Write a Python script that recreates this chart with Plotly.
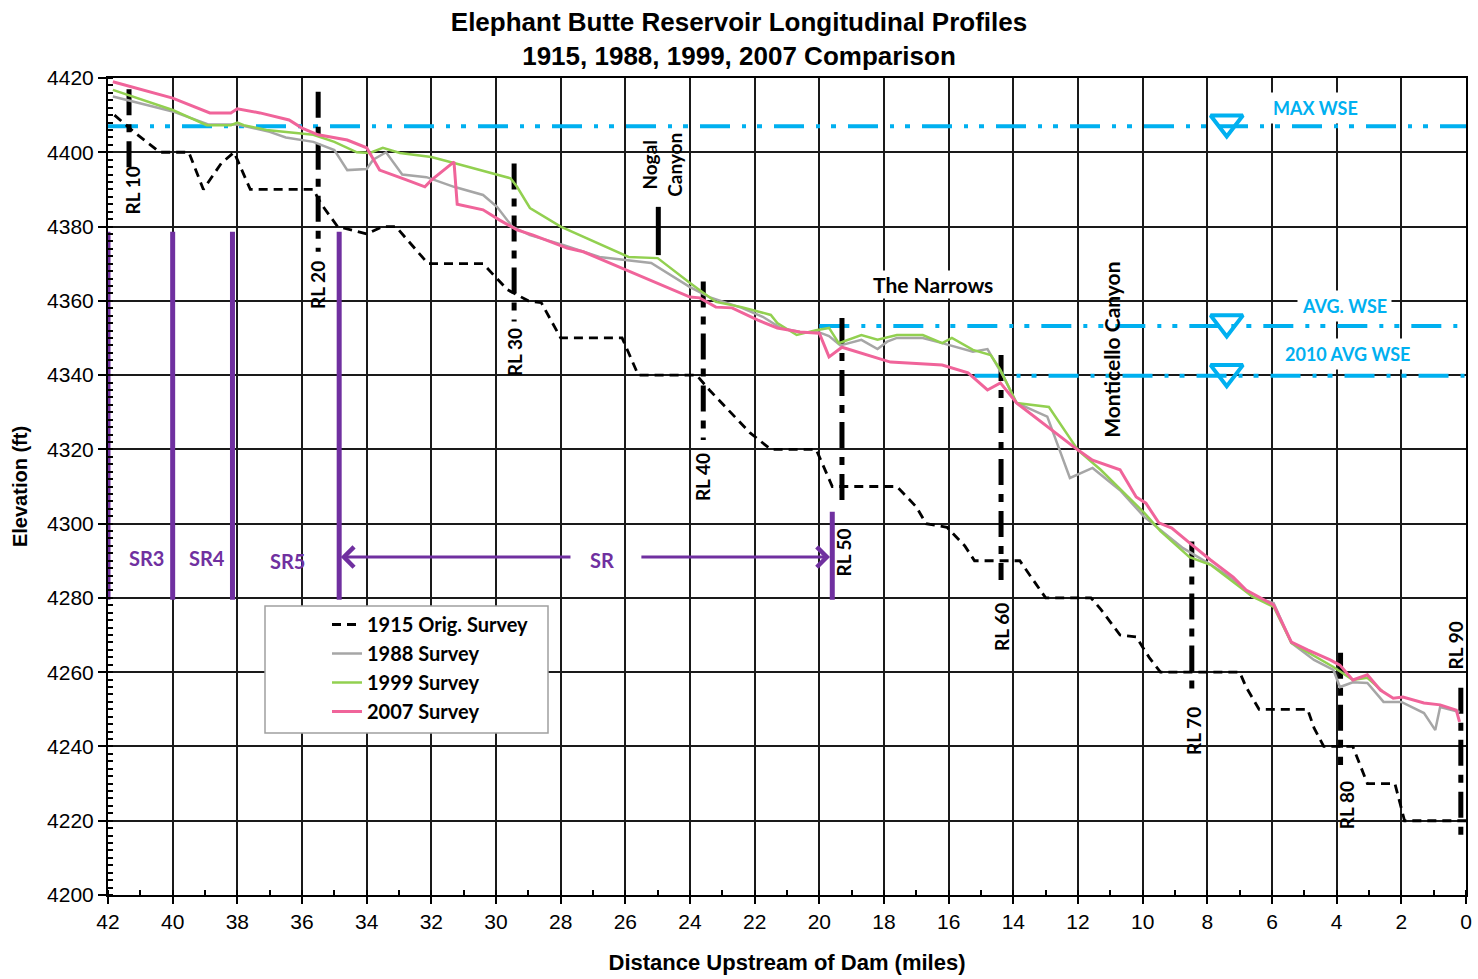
import plotly.graph_objects as go

# ---- survey profiles (distance upstream of dam in miles, elevation in ft) ----
mi_1915 = [41.8, 41.2, 40.4, 39.5, 39.05, 38.5, 38.1, 37.6, 35.65, 35.4, 34.9, 34.0, 33.5, 33.1,
           32.1, 30.4, 29.65, 29.0, 28.6, 28.0, 26.1, 25.6, 23.8, 23.4, 22.15, 21.5, 20.1, 19.6,
           17.6, 17.0, 16.7, 16.05, 15.5, 15.2, 13.8, 13.0, 11.6, 11.3, 10.7, 10.2, 9.8, 9.45,
           7.0, 6.8, 6.4, 4.9, 4.7, 4.4, 3.5, 3.3, 3.05, 2.2, 1.9, 0.0]
el_1915 = [4410, 4405.5, 4400, 4400, 4390, 4397, 4400, 4390, 4390, 4386, 4380, 4378, 4380, 4380,
           4370, 4370, 4363, 4360, 4359.5, 4350, 4350, 4340, 4340, 4336, 4324.5, 4320, 4320, 4310,
           4310, 4304.5, 4300, 4299, 4294, 4290, 4290, 4280, 4280, 4277, 4270, 4269.5, 4264, 4260,
           4260, 4256, 4250, 4250, 4245, 4240, 4240, 4235.5, 4230, 4230, 4220, 4220]

mi_1988 = [41.85, 40.0, 38.9, 38.0, 37.0, 36.5, 35.65, 35.0, 34.6, 34.0, 33.8, 33.4, 32.9, 32.15,
           31.3, 30.4, 29.97, 29.5, 28.95, 27.9, 26.8, 25.2, 24.0, 23.4, 22.4, 21.75, 21.2, 20.6,
           20.0, 19.7, 19.35, 18.7, 18.2, 17.9, 17.6, 16.8, 16.2, 15.25, 14.8, 14.3, 13.9, 12.95,
           12.25, 11.55, 10.7, 9.95, 8.75, 7.9, 7.2, 6.6, 5.95, 5.4, 4.7, 4.1, 3.9, 3.5, 3.05,
           2.55, 2.0, 1.3, 0.95, 0.8, 0.2]
el_1988 = [4415, 4411, 4407.5, 4407.5, 4405.5, 4404, 4402.8, 4400.6, 4395.2, 4395.5, 4398, 4400,
           4394, 4393.3, 4390.7, 4388.5, 4385.3, 4380, 4377.7, 4375, 4371.8, 4370.2, 4363.7, 4361,
           4358.1, 4355.7, 4352.7, 4351.6, 4351.5, 4350.5, 4348, 4349.5, 4347, 4349, 4350, 4350,
           4348.6, 4346.3, 4347, 4339.5, 4332.5, 4328.8, 4312.3, 4315, 4309, 4301.8, 4293.4, 4289,
           4285, 4280.3, 4278.6, 4267.9, 4263.3, 4260.6, 4256, 4257.3, 4257.1, 4252, 4252, 4249,
           4244.4, 4250.6, 4249.3]

mi_1999 = [41.85, 40.0, 38.95, 38.2, 38.0, 37.8, 37.1, 35.65, 35.0, 34.3, 33.9, 33.5, 32.97, 32.0,
           31.3, 29.55, 29.35, 28.95, 28.0, 26.9, 25.9, 25.0, 24.0, 23.2, 22.4, 21.5, 21.3, 20.7,
           20.1, 19.7, 19.4, 18.7, 18.2, 17.6, 16.8, 16.2, 15.9, 15.25, 14.7, 14.4, 13.9, 12.9,
           12.0, 11.3, 9.95, 9.45, 8.55, 7.9, 6.6, 5.95, 5.4, 4.1, 3.5, 3.05, 2.6]
el_1999 = [4416.8, 4411.4, 4407.3, 4407.3, 4408, 4407.3, 4406, 4404.7, 4402.8, 4400, 4399.8,
           4401.2, 4399.8, 4398.7, 4397.1, 4393, 4390.7, 4385, 4380, 4375.6, 4371.8, 4371.5,
           4364.8, 4359.7, 4358.3, 4356.2, 4354, 4350.8, 4352.1, 4352.7, 4348.6, 4350.8, 4349.5,
           4350.8, 4350.8, 4348.6, 4350, 4346.8, 4345.4, 4341.4, 4332.5, 4331.4, 4319.8, 4314.5,
           4302.9, 4298, 4291, 4288.9, 4280.3, 4277.6, 4267.9, 4261.4, 4257.9, 4258.5, 4255]

mi_2007 = [41.85, 40.0, 38.85, 38.2, 38.0, 37.3, 36.4, 36.0, 35.5, 34.6, 34.0, 33.6, 32.75, 32.2,
           32.0, 31.3, 31.2, 30.8, 30.4, 29.9, 29.35, 28.85, 27.8, 27.3, 26.1, 25.2, 24.0, 23.7,
           23.2, 22.7, 21.9, 21.3, 20.6, 20.0, 19.7, 19.3, 17.8, 16.2, 15.4, 14.8, 14.4, 13.9,
           13.2, 12.0, 11.55, 10.7, 10.2, 9.9, 9.5, 9.1, 8.55, 7.9, 7.2, 6.8, 5.95, 5.4, 4.9, 4.2,
           3.9, 3.5, 3.05, 2.65, 2.25, 1.95, 1.3, 0.8, 0.3, 0.2]
el_2007 = [4419, 4414.6, 4410.6, 4410.6, 4411.7, 4410.6, 4408.7, 4406.5, 4404.7, 4403.3, 4401.2,
           4395.2, 4392.5, 4390.7, 4392.5, 4397.4, 4386, 4385.3, 4384.5, 4381.8, 4379.1, 4377.7,
           4374.2, 4373.2, 4368.8, 4365.6, 4361, 4360.8, 4358.3, 4358.1, 4354.8, 4352.7, 4351.6,
           4351.3, 4344.9, 4347.5, 4343.5, 4342.7, 4340.6, 4336, 4337.9, 4332.5, 4327.9, 4319.8,
           4317.1, 4314.5, 4307.2, 4305.5, 4300.2, 4298.8, 4294.8, 4290.2, 4285.6, 4282.1, 4278.1,
           4268.1, 4266, 4263.3, 4261.9, 4257.9, 4259.3, 4255.2, 4253, 4253.3, 4251.7, 4251.2,
           4249.8, 4246.6]

# ---- range lines (station, top and bottom elevation of the marker) ----
rl_names = ["RL 10", "RL 20", "RL 30", "RL 40", "RL 50", "RL 60", "RL 70", "RL 80", "RL 90"]
rl_mi = [41.35, 35.5, 29.44, 23.59, 19.3, 14.38, 8.48, 3.88, 0.16]
rl_top = [4417, 4416.3, 4397, 4365.2, 4355.4, 4345.4, 4295.2, 4265.2, 4255.8]
rl_bot = [4396, 4373.2, 4354.4, 4322.5, 4305.9, 4284.8, 4255.2, 4235, 4214.8]

nogal_mi = 24.98
nogal_el = [4385.3, 4372.3]

# ---- water surface elevations ----
wse_names = ["MAX WSE", "AVG. WSE", "2010 AVG WSE"]
wse_el = [4407, 4353.2, 4339.8]
wse_start = [42, 20.0, 15.2]
wse_mark_mi = 7.4

# ---- sediment reach boundaries ----
sr_names = ["SR3", "SR4", "SR5", "SR"]
sr_bounds = [42, 40, 38.15, 34.85, 19.6]
sr_top = [4378.6, 4378.6, 4378.6, 4378.6, 4303.2]
sr_bot = 4279.5

BLUE = "#00B0F0"
PURPLE = "#7030A0"
TXT = "Lato, 'Open Sans', sans-serif"
ARIAL = "'Liberation Sans', Arial, sans-serif"

fig = go.Figure()

# reach boundaries (drawn first, underneath)
for x, top in zip(sr_bounds, sr_top):
    fig.add_trace(go.Scatter(x=[x, x], y=[sr_bot, top], mode="lines",
                             line=dict(color=PURPLE, width=5), showlegend=False, hoverinfo="skip"))

# water surface lines
for name, el, x0 in zip(wse_names, wse_el, wse_start):
    fig.add_trace(go.Scatter(x=[x0, 0], y=[el, el], mode="lines",
                             line=dict(color=BLUE, width=4, dash="30px,12px,4px,11px,5px,12px"),
                             showlegend=False, hoverinfo="skip", cliponaxis=False))
fig.add_trace(go.Scatter(x=[wse_mark_mi] * 3, y=[e + 1 for e in wse_el], mode="markers",
                         marker=dict(symbol="triangle-down-open", size=28, color=BLUE,
                                     line=dict(color=BLUE, width=4)),
                         showlegend=False, hoverinfo="skip"))

# range line markers
for x, t, b in zip(rl_mi, rl_top, rl_bot):
    fig.add_trace(go.Scatter(x=[x, x], y=[t, b], mode="lines",
                             line=dict(color="black", width=5, dash="26px,9px,8px,9px"),
                             showlegend=False, hoverinfo="skip"))
fig.add_trace(go.Scatter(x=[nogal_mi, nogal_mi], y=nogal_el, mode="lines",
                         line=dict(color="black", width=5), showlegend=False, hoverinfo="skip"))

# survey profiles
fig.add_trace(go.Scatter(x=mi_1915, y=el_1915, mode="lines", name="1915 Orig. Survey",
                         line=dict(color="black", width=2.8, dash="9px,6px")))
fig.add_trace(go.Scatter(x=mi_1988, y=el_1988, mode="lines", name="1988 Survey",
                         line=dict(color="#A6A6A6", width=2.5)))
fig.add_trace(go.Scatter(x=mi_1999, y=el_1999, mode="lines", name="1999 Survey",
                         line=dict(color="#92D050", width=2.5)))
fig.add_trace(go.Scatter(x=mi_2007, y=el_2007, mode="lines", name="2007 Survey",
                         line=dict(color="#F0649A", width=3)))

ann = []
# range line labels
rl_label_el = [4389.8, 4364.3, 4346.2, 4312.6, 4292.1, 4272.2, 4244.1, 4224.3, 4267.3]
rl_label_mi = [41.25, 35.5, 29.44, 23.59, 19.25, 14.35, 8.45, 3.7, 0.33]
for name, x, y in zip(rl_names, rl_label_mi, rl_label_el):
    ann.append(dict(x=x, y=y, text=name, showarrow=False, textangle=-90,
                    font=dict(family=TXT, size=19, color="black", weight="bold")))

ann.append(dict(x=24.87, y=4396.6, text="Nogal<br>Canyon", showarrow=False, textangle=-90,
                font=dict(family=TXT, size=19, color="black", weight="bold")))
ann.append(dict(x=16.5, y=4364.3, text="The Narrows", showarrow=False, bgcolor="white",
                font=dict(family=TXT, size=21, color="black", weight="bold")))
ann.append(dict(x=10.95, y=4346.8, text="Monticello Canyon", showarrow=False, textangle=-90,
                font=dict(family=TXT, size=21, color="black", weight="bold")))

# wse labels
for name, x, y in zip(wse_names, [4.67, 3.77, 3.65], [4411.9, 4358.6, 4345.7]):
    ann.append(dict(x=x, y=y, text=name, showarrow=False, bgcolor="white", borderpad=4,
                    font=dict(family=TXT, size=18, color=BLUE, weight="bold")))

# reach labels and arrows
for name, x, y in zip(sr_names, [40.82, 38.94, 36.46, 26.72], [4290.8, 4290.8, 4290, 4290.3]):
    ann.append(dict(x=x, y=y, text=name, showarrow=False,
                    font=dict(family=TXT, size=20, color=PURPLE, weight="bold")))
for head, tail in [(34.8, 27.65), (19.67, 25.55)]:
    ann.append(dict(x=head, y=4291, ax=tail, ay=4291, axref="x", ayref="y", text="",
                    showarrow=True, arrowhead=4, arrowsize=1.3, arrowwidth=3, arrowcolor=PURPLE))

fig.update_layout(
    width=1478, height=979,
    margin=dict(l=108, r=12, t=78, b=84),
    paper_bgcolor="white", plot_bgcolor="white",
    title=dict(text="Elephant Butte Reservoir Longitudinal Profiles<br>1915, 1988, 1999, 2007 Comparison",
               x=0.5, xanchor="center", y=1 - 31 / 979, yanchor="middle",
               font=dict(family=ARIAL, size=26, color="black", weight="bold")),
    font=dict(family=ARIAL, color="black"),
    annotations=ann,
    showlegend=True,
    legend=dict(x=(327 - 108) / 1358, y=(895 - 605) / 817, xanchor="left", yanchor="top",
                bgcolor="rgba(0,0,0,0)", borderwidth=0,
                font=dict(family=TXT, size=20, color="black", weight="bold")),
    shapes=[dict(type="rect", xref="paper", yref="paper", layer="above",
                 x0=(265 - 108) / 1358, x1=(548 - 108) / 1358,
                 y0=(895 - 733) / 817, y1=(895 - 606) / 817,
                 fillcolor="white", line=dict(color="#A0A0A0", width=1.5))],
)

fig.update_xaxes(range=[42, 0], tick0=0, dtick=2, showgrid=True, gridcolor="#1a1a1a", gridwidth=1.6,
                 showline=True, linecolor="black", linewidth=2, mirror=True, zeroline=False,
                 ticks="outside", ticklen=7, tickwidth=1.5, tickcolor="black", automargin=False,
                 tickfont=dict(family=ARIAL, size=21),
                 minor=dict(dtick=1, ticks="inside", ticklen=5, tickcolor="black", showgrid=False),
                 title=dict(text="Distance Upstream of Dam (miles)", standoff=22,
                            font=dict(family=ARIAL, size=22, weight="bold")))
fig.update_yaxes(range=[4200, 4420], dtick=20, showgrid=True, gridcolor="#1a1a1a", gridwidth=1.6,
                 showline=True, linecolor="black", linewidth=2, mirror=True, zeroline=False,
                 ticks="outside", ticklen=8, tickwidth=1.5, tickcolor="black", automargin=False,
                 tickfont=dict(family=ARIAL, size=21),
                 minor=dict(dtick=2, ticks="inside", ticklen=5, tickcolor="black", showgrid=False),
                 title=dict(text="Elevation (ft)", standoff=14,
                            font=dict(family=ARIAL, size=20, weight="bold")))

fig.write_html("out.html", config={"displayModeBar": False},
               post_script="document.body.style.margin='0px';")
